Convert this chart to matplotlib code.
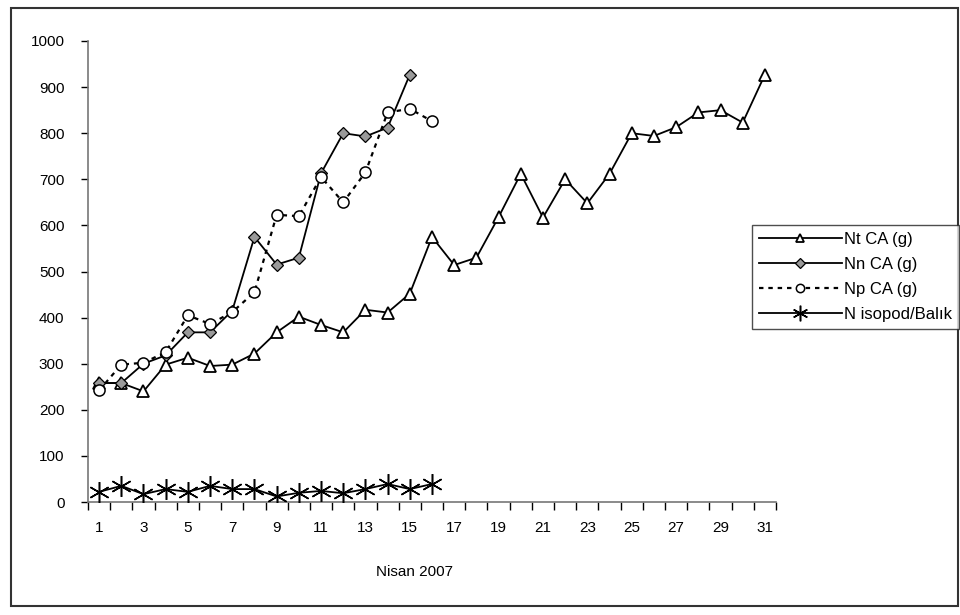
import matplotlib.pyplot as plt
from matplotlib.patches import Rectangle

# Gün numaraları (Nisan 2007)
gunler = list(range(1, 32))

# Nt CA (g) - 31 gün
nt_ca = [258, 258, 240, 298, 313, 295, 298, 322, 368, 402, 384, 368, 417, 411, 452, 575,
         514, 530, 618, 712, 617, 700, 648, 712, 800, 794, 813, 845, 850, 823, 927]
# Nn CA (g) - 15 gün
nn_ca = [258, 258, 300, 318, 368, 368, 415, 575, 515, 530, 713, 800, 793, 812, 927]
# Np CA (g) - 16 gün
np_ca = [242, 298, 302, 325, 405, 386, 412, 455, 623, 620, 705, 650, 715, 845, 853, 826]
# N isopod/Balık - 16 gün
isopod = [22, 35, 17, 28, 22, 35, 28, 28, 12, 20, 24, 19, 28, 39, 28, 39]

x_etiketleri = [str(g) for g in gunler if g % 2 == 1]

plt.rcParams['font.family'] = ['Liberation Sans', 'DejaVu Sans']
plt.rcParams['font.size'] = 11

fig = plt.figure(figsize=(9.6, 6.15), dpi=100)
W, H = 960, 615
ax = fig.add_axes([88 / W, 1 - 502 / H, (776 - 88) / W, (502 - 41) / H])

ax.plot(gunler, nt_ca, color='black', lw=1.3, marker='^', ms=8.5,
        mfc='white', mec='black', mew=1.3, label='Nt CA (g)', zorder=3)
ax.plot(gunler[:len(nn_ca)], nn_ca, color='black', lw=1.3, marker='D', ms=6.5,
        mfc='#9a9a9a', mec='black', mew=0.9, label='Nn CA (g)', zorder=3)
ax.plot(gunler[:len(np_ca)], np_ca, color='black', lw=1.6, ls=(0, (2, 2.2)), marker='o', ms=8,
        mfc='white', mec='black', mew=1.1, label='Np CA (g)', zorder=4)
ax.plot(gunler[:len(isopod)], isopod, color='black', lw=1.3, marker=(6, 2, 0), ms=15,
        mec='black', mew=1.1, label='N isopod/Balık', zorder=3)

ax.set_xlim(0.5, 31.5)
ax.set_ylim(0, 1000)

# x ekseni: çizgiler kategori sınırlarında, etiketler tek günlerde
ax.set_xticks([g - 0.5 for g in gunler] + [31.5])
ax.set_xticklabels([])
ax.set_xticks([g for g in gunler if g % 2 == 1], minor=True)
ax.set_xticklabels(x_etiketleri, minor=True)
ax.tick_params(axis='x', which='major', direction='out', length=6, width=1, color='black')
ax.tick_params(axis='x', which='minor', length=0, pad=14)

ax.set_yticks(range(0, 1001, 100))
ax.tick_params(axis='y', direction='out', length=5, width=1, pad=12, color='black')

for s in ['top', 'right']:
    ax.spines[s].set_visible(False)
for s in ['left', 'bottom']:
    ax.spines[s].set_color('#777777')
    ax.spines[s].set_linewidth(1.2)

ax.set_xlabel('Nisan 2007')
ax.xaxis.set_label_coords((414 - 88) / 688, (502 - 565) / 461)

leg = fig.legend(loc='center left', bbox_to_anchor=(752 / W, 1 - 277 / H),
                 frameon=True, fancybox=False, edgecolor='#222222', handlelength=5.0,
                 handletextpad=0.15, borderpad=0.4, labelspacing=0.6, borderaxespad=0,
                 markerscale=0.75, fontsize=12)
leg.get_frame().set_linewidth(1.0)

# dış çerçeve
fig.patches.append(Rectangle((11 / W, 1 - 606 / H), (958 - 11) / W, (606 - 8) / H,
                             transform=fig.transFigure, fill=False, ec='#333333', lw=1.5))

fig.savefig('out.png', dpi=100)
